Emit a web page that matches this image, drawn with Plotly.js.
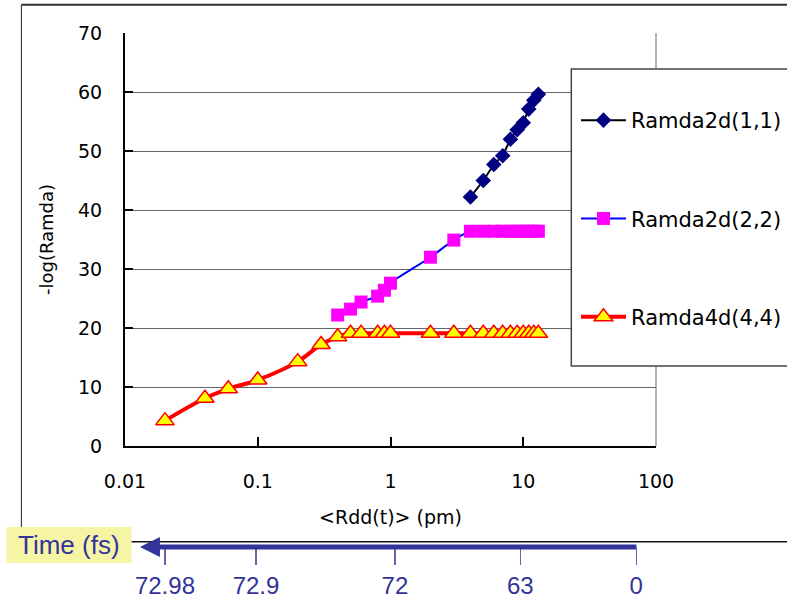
<!DOCTYPE html>
<html>
<head>
<meta charset="utf-8">
<script src="https://cdn.plot.ly/plotly-3.0.1.min.js"></script>
<style>html,body{margin:0;padding:0;background:#fff}#chart{width:787px;height:598px}</style>
</head>
<body>
<div id="chart"></div>
<script>
// ---- data ----
const seriesNames = ["Ramda2d(1,1)", "Ramda2d(2,2)", "Ramda4d(4,4)"];
const rdd11 = [4, 5, 6, 7, 8, 9, 10, 11, 12, 13];
const ramda11 = [42.2, 45.0, 47.7, 49.2, 52.0, 53.6, 54.8, 57.1, 58.6, 59.6];
const rdd22 = [0.4, 0.5, 0.6, 0.8, 0.9, 1, 2, 3, 4, 5, 6, 7, 8, 9, 10, 11, 12, 13];
const ramda22 = [22.2, 23.2, 24.4, 25.4, 26.4, 27.6, 32.0, 34.9, 36.4, 36.4, 36.4, 36.4, 36.4, 36.4, 36.4, 36.4, 36.4, 36.4];
const rdd44 = [0.02, 0.04, 0.06, 0.1, 0.2, 0.3, 0.4, 0.5, 0.6, 0.8, 0.9, 1, 2, 3, 4, 5, 6, 7, 8, 9, 10, 11, 12, 13];
const ramda44 = [4.3, 8.1, 9.7, 11.2, 14.3, 17.2, 18.5, 19.1, 19.1, 19.1, 19.1, 19.1, 19.1, 19.1, 19.1, 19.1, 19.1, 19.1, 19.1, 19.1, 19.1, 19.1, 19.1, 19.1];
const xTickVals = [0.01, 0.1, 1, 10, 100];
const xTickText = ["0.01", "0.1", "1", "10", "100"];
const timeLabels = ["72.98", "72.9", "72", "63", "0"];
const timeRdd = [0.02, 0.097, 1.08, 9.5, 71];

// ---- geometry helpers (pixel -> paper) ----
const W = 787, H = 598, ML = 125, MR = 129, MT = 33, MB = 0;
const PW = W - ML - MR, PH = H - MT - MB;
const xp = px => (px - ML) / PW;
const yp = py => (H - MB - py) / PH;

const font = "DejaVu Sans, Verdana, sans-serif";
const navy = "#333399";

const traces = [
  {x: rdd11, y: ramda11, name: seriesNames[0], type: "scatter", mode: "lines+markers",
   legendgroup: "a", line: {color: "#000000", width: 2},
   marker: {symbol: "diamond", size: 12, color: "#000080", line: {width: 0}}},
  {x: rdd22, y: ramda22, name: seriesNames[1], type: "scatter", mode: "lines+markers",
   legendgroup: "b", line: {color: "#0000FF", width: 2, shape: "spline"},
   marker: {symbol: "square", size: 13, color: "#FF00FF", line: {width: 0}}},
  {x: rdd44, y: ramda44, name: seriesNames[2], type: "scatter", mode: "lines+markers",
   legendgroup: "c", line: {color: "#FF0000", width: 4, shape: "spline"},
   marker: {symbol: "triangle-up", size: 16, color: "#FFFF00", line: {color: "#FF0000", width: 1.5}}},
  {x: [], y: [], xaxis: "x2", yaxis: "y2", showlegend: false, type: "scatter", mode: "markers"}
];

const layout = {
  width: W, height: H,
  margin: {l: ML, r: MR, t: MT, b: MB},
  paper_bgcolor: "#ffffff", plot_bgcolor: "#ffffff",
  font: {family: font, size: 18, color: "#000"},
  showlegend: true,
  xaxis: {
    type: "log", range: [-2, 2], domain: [0, 1], anchor: "y",
    tickvals: xTickVals, ticktext: xTickText,
    ticks: "inside", ticklen: 9, tickwidth: 2, tickcolor: "#000",
    showline: true, linewidth: 2, linecolor: "#000",
    showgrid: false, zeroline: false,
    tickfont: {family: font, size: 19, color: "#000"},
    ticklabelstandoff: 17,
    title: {text: "&lt;Rdd(t)&gt; (pm)", font: {family: font, size: 19, color: "#000"}, standoff: 20}
  },
  yaxis: {
    range: [0, 70], dtick: 10, domain: [yp(446), 1], anchor: "x",
    ticks: "inside", ticklen: 8, tickwidth: 2, tickcolor: "#000",
    showline: true, linewidth: 2, linecolor: "#000",
    showgrid: true, gridcolor: "#666666", gridwidth: 1, zeroline: false,
    tickfont: {family: font, size: 19, color: "#000"},
    ticklabelstandoff: 17,
    title: {text: "-log(Ramda)", font: {family: font, size: 18, color: "#000"}, standoff: 20}
  },
  xaxis2: {
    type: "log", range: [-2, 2], domain: [0, 1], anchor: "y2",
    tickvals: timeRdd, ticktext: timeLabels,
    ticks: "outside", ticklen: 17, tickwidth: 1.5, tickcolor: "#6666aa",
    showline: false, showgrid: false, zeroline: false,
    tickfont: {family: "Liberation Sans, Arial, sans-serif", size: 24, color: navy}
  },
  yaxis2: {
    domain: [yp(547), yp(540)], anchor: "x2", range: [0, 1], visible: false
  },
  legend: {
    x: xp(578), xanchor: "left", y: yp(100), yanchor: "top",
    bgcolor: "rgba(0,0,0,0)", borderwidth: 0,
    tracegroupgap: 68, itemwidth: 45,
    font: {family: font, size: 21, color: "#000"}
  },
  shapes: [
    {type: "line", xref: "paper", yref: "y domain", x0: 1, x1: 1, y0: 0, y1: 1,
     line: {color: "#999999", width: 1.5}, layer: "below"},
    {type: "line", xref: "paper", yref: "paper", x0: xp(21), x1: xp(790), y0: yp(4.7), y1: yp(4.7),
     line: {color: "#333333", width: 2}},
    {type: "line", xref: "paper", yref: "paper", x0: xp(21), x1: xp(21), y0: yp(4.7), y1: yp(530),
     line: {color: "#222222", width: 1}},
    {type: "line", xref: "paper", yref: "paper", x0: xp(21), x1: xp(790), y0: yp(541.7), y1: yp(541.7),
     line: {color: "#111111", width: 1.5}},
    {type: "rect", xref: "paper", yref: "paper", x0: xp(573), x1: xp(792), y0: yp(366), y1: yp(69),
     fillcolor: "#ffffff", line: {color: "#444444", width: 1.5}, layer: "above"},
    {type: "rect", xref: "paper", yref: "paper", x0: xp(6), x1: xp(131.7), y0: yp(563), y1: yp(527),
     fillcolor: "#F5F5A5", line: {width: 0}, layer: "above"}
  ],
  annotations: [
    {xref: "paper", yref: "paper", x: xp(69), y: yp(545), text: "Time (fs)", showarrow: false,
     font: {family: "Liberation Sans, Arial, sans-serif", size: 26, color: navy},
     xanchor: "center", yanchor: "middle"},
    {xref: "paper", yref: "paper", x: xp(140), y: yp(547), text: "", showarrow: true,
     ax: 498, ay: 0, arrowhead: 2, arrowsize: 0.8, arrowwidth: 5, arrowcolor: navy,
     startstandoff: 0, standoff: 0}
  ]
};

Plotly.newPlot("chart", traces, layout, {displayModeBar: false, staticPlot: true});
</script>
</body>
</html>
